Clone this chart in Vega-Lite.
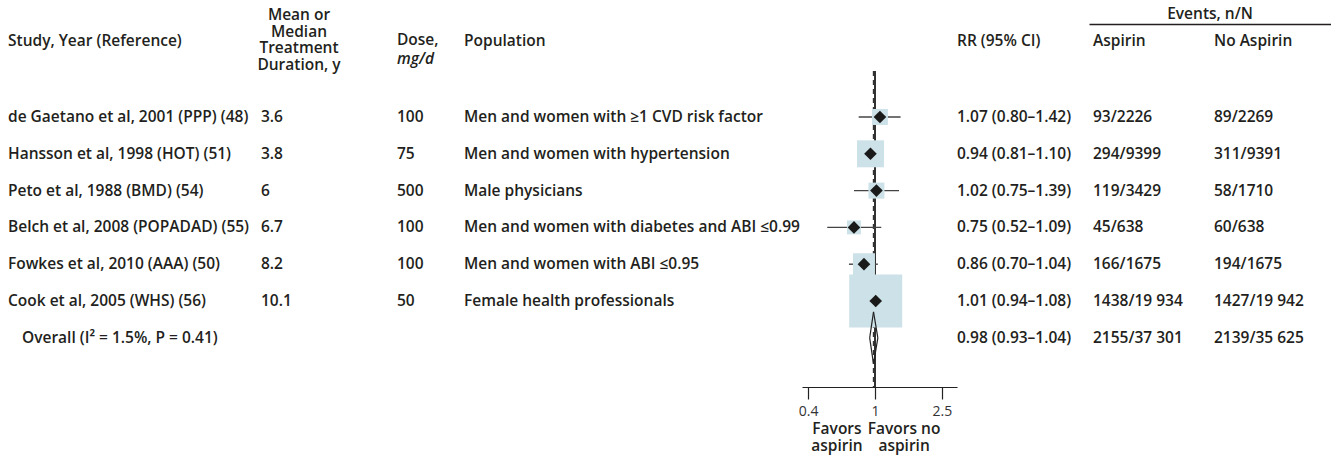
{
  "$schema": "https://vega.github.io/schema/vega-lite/v6.json",
  "background": "white",
  "padding": {"left": 8, "top": 6, "right": 0, "bottom": 16},
  "spacing": 0,
  "bounds": "flush",
  "config": {
    "view": {"stroke": null},
    "font": "Open Sans",
    "text": {"font": "Open Sans", "fontSize": 15.5, "fontWeight": 600, "color": "#231f20", "align": "left", "baseline": "middle"},
    "title": {"font": "Open Sans", "fontSize": 15.5, "fontWeight": 600, "color": "#231f20", "anchor": "start", "lineHeight": 16.5,
              "subtitleFont": "Open Sans", "subtitleFontSize": 15.5, "subtitleFontWeight": 600, "subtitleColor": "#231f20", "subtitlePadding": 0},
    "axis": {"labelFont": "Open Sans", "titleFont": "Open Sans", "grid": false}
  },
  "datasets": {
    "trials": [
      {"row": 1, "kind": "study", "study": "de Gaetano et al, 2001 (PPP) (48)", "duration": "3.6", "dose": "100", "population": "Men and women with ≥1 CVD risk factor", "rr": "1.07 (0.80–1.42)", "est": 1.07, "lo": 0.80, "hi": 1.42, "weight": 5.4, "Aspirin": "93/2226", "No Aspirin": "89/2269"},
      {"row": 2, "kind": "study", "study": "Hansson et al, 1998 (HOT) (51)", "duration": "3.8", "dose": "75", "population": "Men and women with hypertension", "rr": "0.94 (0.81–1.10)", "est": 0.94, "lo": 0.81, "hi": 1.10, "weight": 15.4, "Aspirin": "294/9399", "No Aspirin": "311/9391"},
      {"row": 3, "kind": "study", "study": "Peto et al, 1988 (BMD) (54)", "duration": "6", "dose": "500", "population": "Male physicians", "rr": "1.02 (0.75–1.39)", "est": 1.02, "lo": 0.75, "hi": 1.39, "weight": 5.4, "Aspirin": "119/3429", "No Aspirin": "58/1710"},
      {"row": 4, "kind": "study", "study": "Belch et al, 2008 (POPADAD) (55)", "duration": "6.7", "dose": "100", "population": "Men and women with diabetes and ABI ≤0.99", "rr": "0.75 (0.52–1.09)", "est": 0.75, "lo": 0.52, "hi": 1.09, "weight": 4.1, "Aspirin": "45/638", "No Aspirin": "60/638"},
      {"row": 5, "kind": "study", "study": "Fowkes et al, 2010 (AAA) (50)", "duration": "8.2", "dose": "100", "population": "Men and women with ABI ≤0.95", "rr": "0.86 (0.70–1.04)", "est": 0.86, "lo": 0.70, "hi": 1.04, "weight": 10.2, "Aspirin": "166/1675", "No Aspirin": "194/1675"},
      {"row": 6, "kind": "study", "study": "Cook et al, 2005 (WHS) (56)", "duration": "10.1", "dose": "50", "population": "Female health professionals", "rr": "1.01 (0.94–1.08)", "est": 1.01, "lo": 0.94, "hi": 1.08, "weight": 59.4, "Aspirin": "1438/19 934", "No Aspirin": "1427/19 942"},
      {"row": 7, "kind": "overall", "study": "Overall (I² = 1.5%, P = 0.41)", "duration": "", "dose": "", "population": "", "rr": "0.98 (0.93–1.04)", "est": 0.98, "lo": 0.93, "hi": 1.04, "weight": null, "Aspirin": "2155/37 301", "No Aspirin": "2139/35 625"}
    ]
  },
  "data": {"name": "trials"},
  "hconcat": [
    {
      "width": 253, "height": 316,
      "title": {"text": "Study, Year (Reference)", "offset": 22},
      "layer": [
        {
          "transform": [{"filter": "datum.kind == 'study'"}],
          "mark": {"type": "text"},
          "encoding": {
            "x": {"value": 0},
            "y": {"field": "row", "type": "quantitative", "scale": {"domain": [-0.25, 8.337], "reverse": true, "nice": false, "zero": false}, "axis": null},
            "text": {"field": "study"}
          }
        },
        {
          "transform": [{"filter": "datum.kind == 'overall'"}],
          "mark": {"type": "text", "dx": 14},
          "encoding": {
            "x": {"value": 0},
            "y": {"field": "row", "type": "quantitative", "scale": {"domain": [-0.25, 8.337], "reverse": true, "nice": false, "zero": false}, "axis": null},
            "text": {"field": "study"}
          }
        }
      ]
    },
    {
      "width": 136, "height": 316,
      "title": {"text": ["Mean or", "Median", "Treatment", "Duration, y"], "align": "center", "dx": 38, "offset": -2},
      "transform": [{"filter": "datum.kind == 'study'"}],
      "mark": {"type": "text"},
      "encoding": {
        "x": {"value": 0},
        "y": {"field": "row", "type": "quantitative", "scale": {"domain": [-0.25, 8.337], "reverse": true, "nice": false, "zero": false}, "axis": null},
        "text": {"field": "duration"}
      }
    },
    {
      "width": 67, "height": 316,
      "title": {"text": "Dose,", "subtitle": "mg/d", "subtitleFontStyle": "italic", "offset": 4},
      "transform": [{"filter": "datum.kind == 'study'"}],
      "mark": {"type": "text"},
      "encoding": {
        "x": {"value": 0},
        "y": {"field": "row", "type": "quantitative", "scale": {"domain": [-0.25, 8.337], "reverse": true, "nice": false, "zero": false}, "axis": null},
        "text": {"field": "dose"}
      }
    },
    {
      "width": 338, "height": 316,
      "title": {"text": "Population", "offset": 22},
      "transform": [{"filter": "datum.kind == 'study'"}],
      "mark": {"type": "text"},
      "encoding": {
        "x": {"value": 0},
        "y": {"field": "row", "type": "quantitative", "scale": {"domain": [-0.25, 8.337], "reverse": true, "nice": false, "zero": false}, "axis": null},
        "text": {"field": "population"}
      }
    },
    {
      "width": 155, "height": 316,
      "resolve": {"axis": {"x": "independent"}},
      "layer": [
        {
          "mark": {"type": "rule", "color": "#333333", "strokeWidth": 1.4},
          "encoding": {"x": {"datum": 1, "type": "quantitative", "axis": null}}
        },
        {
          "transform": [{"filter": "datum.kind == 'overall'"}],
          "mark": {"type": "rule", "color": "#333333", "strokeWidth": 1.4, "strokeDash": [5, 4]},
          "encoding": {"x": {"field": "est", "type": "quantitative", "axis": null}}
        },
        {
          "transform": [{"filter": "datum.kind == 'study'"}],
          "mark": {"type": "rule", "color": "#444444", "strokeWidth": 1.4},
          "encoding": {
            "x": {"field": "lo", "type": "quantitative",
                  "scale": {"type": "log", "domain": [0.368, 3.075], "nice": false},
                  "axis": {"orient": "bottom", "values": [0.4, 1, 2.5], "format": "~g", "title": null,
                           "domainColor": "#222222", "domainWidth": 1.2, "tickColor": "#222222", "tickWidth": 1.2, "tickSize": 12,
                           "labelFontSize": 14, "labelFontWeight": 400, "labelColor": "#333333", "labelPadding": 5}},
            "x2": {"field": "hi"},
            "y": {"field": "row", "type": "quantitative", "scale": {"domain": [-0.25, 8.337], "reverse": true, "nice": false, "zero": false}, "axis": null}
          }
        },
        {
          "transform": [{"filter": "datum.kind == 'study'"}],
          "mark": {"type": "square", "color": "#cde2e8", "filled": true, "opacity": 1},
          "encoding": {
            "x": {"field": "est", "type": "quantitative", "axis": null},
            "y": {"field": "row", "type": "quantitative", "axis": null},
            "size": {"field": "weight", "type": "quantitative", "scale": {"domain": [0, 100], "range": [0, 4730]}, "legend": null}
          }
        },
        {
          "transform": [{"filter": "datum.kind == 'study'"}],
          "mark": {"type": "point", "shape": "diamond", "filled": true, "color": "#1a1a1a", "opacity": 1, "size": 160},
          "encoding": {
            "x": {"field": "est", "type": "quantitative",
                  "axis": {"orient": "bottom", "values": [0.59, 1.48], "title": null, "domain": false, "ticks": false, "tickSize": 0,
                           "offset": 34, "labelPadding": 0, "labelBaseline": "top", "labelAlign": "center",
                           "labelExpr": "datum.value < 1 ? ['Favors', 'aspirin'] : ['Favors no', 'aspirin']",
                           "labelFontSize": 15.5, "labelFontWeight": 600, "labelColor": "#231f20", "labelLineHeight": 17}},
            "y": {"field": "row", "type": "quantitative", "axis": null}
          }
        },
        {
          "transform": [{"filter": "datum.kind == 'overall'"}],
          "mark": {"type": "rule", "color": "#222222", "strokeWidth": 1.2, "y2Offset": -26},
          "encoding": {
            "x": {"field": "lo", "type": "quantitative", "axis": null}, "x2": {"field": "est"},
            "y": {"field": "row", "type": "quantitative", "axis": null}, "y2": {"field": "row"}
          }
        },
        {
          "transform": [{"filter": "datum.kind == 'overall'"}],
          "mark": {"type": "rule", "color": "#222222", "strokeWidth": 1.2, "yOffset": -26},
          "encoding": {
            "x": {"field": "est", "type": "quantitative", "axis": null}, "x2": {"field": "hi"},
            "y": {"field": "row", "type": "quantitative", "axis": null}, "y2": {"field": "row"}
          }
        },
        {
          "transform": [{"filter": "datum.kind == 'overall'"}],
          "mark": {"type": "rule", "color": "#222222", "strokeWidth": 1.2, "y2Offset": 26},
          "encoding": {
            "x": {"field": "hi", "type": "quantitative", "axis": null}, "x2": {"field": "est"},
            "y": {"field": "row", "type": "quantitative", "axis": null}, "y2": {"field": "row"}
          }
        },
        {
          "transform": [{"filter": "datum.kind == 'overall'"}],
          "mark": {"type": "rule", "color": "#222222", "strokeWidth": 1.2, "yOffset": 26},
          "encoding": {
            "x": {"field": "est", "type": "quantitative", "axis": null}, "x2": {"field": "lo"},
            "y": {"field": "row", "type": "quantitative", "axis": null}, "y2": {"field": "row"}
          }
        }
      ]
    },
    {
      "width": 132, "height": 316,
      "title": {"text": "RR (95% CI)", "offset": 22},
      "mark": {"type": "text"},
      "encoding": {
        "x": {"value": 0},
        "y": {"field": "row", "type": "quantitative", "scale": {"domain": [-0.25, 8.337], "reverse": true, "nice": false, "zero": false}, "axis": null},
        "text": {"field": "rr"}
      }
    },
    {
      "width": 242, "height": 316,
      "title": {"text": "Events, n/N", "anchor": "middle", "offset": 2},
      "transform": [{"fold": ["Aspirin", "No Aspirin"], "as": ["arm", "events"]}],
      "mark": {"type": "text", "dx": 4},
      "encoding": {
        "x": {"field": "arm", "type": "nominal", "bandPosition": 0,
              "scale": {"type": "band", "domain": ["Aspirin", "No Aspirin"], "paddingInner": 0, "paddingOuter": 0},
              "axis": {"orient": "top", "offset": 47, "title": null, "ticks": false, "tickSize": 0,
                       "labelAngle": 0, "labelAlign": "left", "labelBaseline": "middle", "labelPadding": -16, "labelOffset": -56.5,
                       "labelFontSize": 15.5, "labelFontWeight": 600, "labelColor": "#231f20",
                       "domainColor": "#231f20", "domainWidth": 1.3}},
        "y": {"field": "row", "type": "quantitative", "scale": {"domain": [-0.25, 8.337], "reverse": true, "nice": false, "zero": false}, "axis": null},
        "text": {"field": "events"}
      }
    }
  ]
}
